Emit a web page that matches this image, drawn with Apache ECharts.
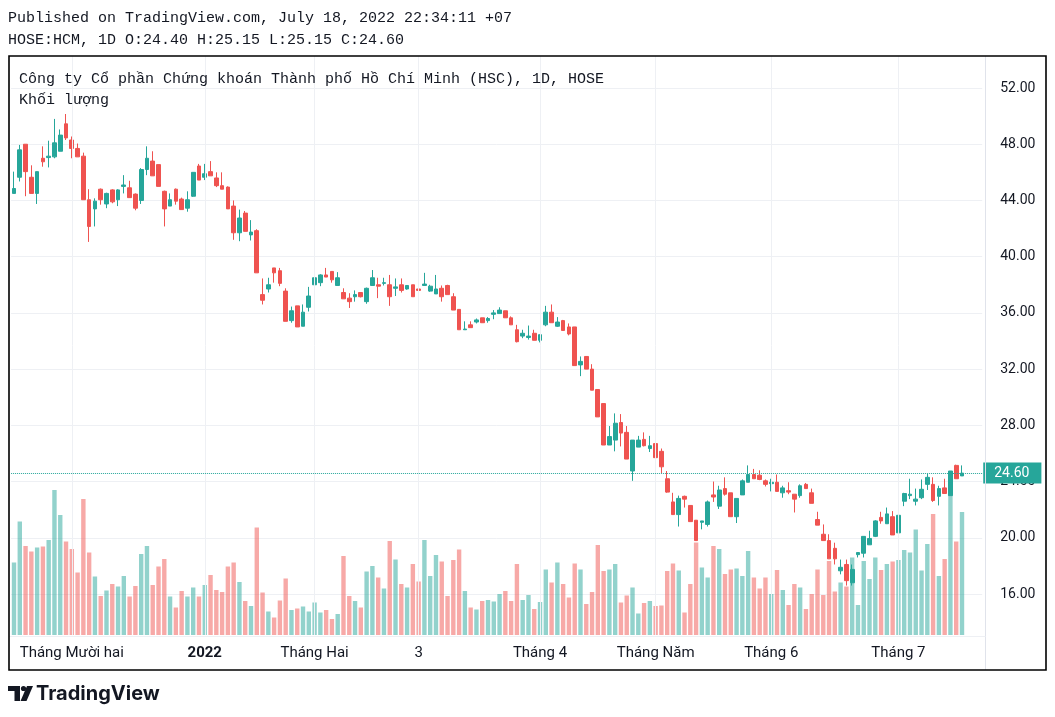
<!DOCTYPE html>
<html><head><meta charset="utf-8">
<script src="https://cdn.jsdelivr.net/npm/echarts@6/dist/echarts.min.js"></script>
<style>html,body{margin:0;padding:0;background:#fff}#c{width:1055px;height:717px}</style>
</head><body><div id="c"></div>
<script>
// ---- categories (trading days) ----
const dates = [
'2021-11-17','2021-11-18','2021-11-19','2021-11-22','2021-11-23','2021-11-24','2021-11-25','2021-11-26','2021-11-29','2021-11-30',
'2021-12-01','2021-12-02','2021-12-03','2021-12-06','2021-12-07','2021-12-08','2021-12-09','2021-12-10','2021-12-13','2021-12-14','2021-12-15','2021-12-16','2021-12-17','2021-12-20','2021-12-21','2021-12-22','2021-12-23','2021-12-24','2021-12-27','2021-12-28','2021-12-29','2021-12-30','2021-12-31',
'2022-01-04','2022-01-05','2022-01-06','2022-01-07','2022-01-10','2022-01-11','2022-01-12','2022-01-13','2022-01-14','2022-01-17','2022-01-18','2022-01-19','2022-01-20','2022-01-21','2022-01-24','2022-01-25','2022-01-26','2022-01-27','2022-01-28',
'2022-02-07','2022-02-08','2022-02-09','2022-02-10','2022-02-11','2022-02-14','2022-02-15','2022-02-16','2022-02-17','2022-02-18','2022-02-21','2022-02-22','2022-02-23','2022-02-24','2022-02-25','2022-02-28',
'2022-03-01','2022-03-02','2022-03-03','2022-03-04','2022-03-07','2022-03-08','2022-03-09','2022-03-10','2022-03-11','2022-03-14','2022-03-15','2022-03-16','2022-03-17','2022-03-18','2022-03-21','2022-03-22','2022-03-23','2022-03-24','2022-03-25','2022-03-28','2022-03-29','2022-03-30','2022-03-31',
'2022-04-01','2022-04-04','2022-04-05','2022-04-06','2022-04-07','2022-04-08','2022-04-12','2022-04-13','2022-04-14','2022-04-15','2022-04-18','2022-04-19','2022-04-20','2022-04-21','2022-04-22','2022-04-25','2022-04-26','2022-04-27','2022-04-28','2022-04-29',
'2022-05-04','2022-05-05','2022-05-06','2022-05-09','2022-05-10','2022-05-11','2022-05-12','2022-05-13','2022-05-16','2022-05-17','2022-05-18','2022-05-19','2022-05-20','2022-05-23','2022-05-24','2022-05-25','2022-05-26','2022-05-27','2022-05-30','2022-05-31',
'2022-06-01','2022-06-02','2022-06-03','2022-06-06','2022-06-07','2022-06-08','2022-06-09','2022-06-10','2022-06-13','2022-06-14','2022-06-15','2022-06-16','2022-06-17','2022-06-20','2022-06-21','2022-06-22','2022-06-23','2022-06-24','2022-06-27','2022-06-28','2022-06-29','2022-06-30',
'2022-07-01','2022-07-04','2022-07-05','2022-07-06','2022-07-07','2022-07-08','2022-07-11','2022-07-12','2022-07-13','2022-07-14','2022-07-15','2022-07-18'
];
const futureDates = ['2022-07-19','2022-07-20','2022-07-21'];

// ---- OHLC + volume (millions) ----
const open = [
44.5,45.65,48.0,45.65,44.5,47.0,47.05,47.1,47.5,49.45,
48.3,47.7,47.15,44.05,43.4,44.8,43.75,44.75,44.05,45.0,
44.9,44.45,44.0,46.2,46.8,46.55,44.65,43.6,44.8,44.1,
43.45,44.3,46.45,45.65,46.05,45.6,45.05,44.95,43.6,41.7,
43.1,41.55,41.85,37.3,37.7,39.2,39.0,37.55,35.45,36.5,
35.05,36.4,38.0,38.15,38.7,38.95,37.95,37.45,37.05,37.15,
37.45,36.8,37.95,38.0,38.1,38.0,37.75,38.0,37.7,38.0,
37.7,37.95,37.55,37.35,37.75,37.95,37.15,36.25,34.8,35.15,
35.35,35.65,35.45,35.9,35.95,36.15,35.65,34.8,34.35,34.25,
34.55,34.05,35.15,36.05,35.05,35.45,35.0,35.0,32.3,32.9,
32.0,30.55,29.55,26.6,26.95,28.2,27.5,24.75,26.45,27.0,
26.35,26.7,26.15,24.2,22.55,21.65,22.95,22.3,21.25,21.1,
20.95,23.05,22.25,23.5,23.2,21.5,23.05,23.95,24.5,24.45,
24.05,23.85,23.95,23.2,23.35,23.1,23.0,23.8,23.2,21.3,
20.25,19.8,19.25,17.65,18.1,16.8,18.8,18.9,19.5,20.1,
21.45,21.0,21.5,20.35,22.6,23.0,22.6,22.85,23.8,23.8,
22.95,23.55,23.0,25.15,24.4];
const high = [
46.05,47.95,48.0,46.5,46.05,47.85,48.25,49.8,49.05,50.15,
48.55,48.05,47.4,44.8,44.15,44.85,44.55,44.8,44.8,45.8,
45.4,44.5,46.3,47.85,47.5,46.55,44.7,44.5,44.85,44.2,
44.65,46.0,46.6,46.6,46.8,46.0,46.0,45.0,44.0,43.35,
43.25,42.6,41.95,38.45,38.5,39.2,39.2,37.75,36.45,36.5,
36.6,37.85,39.2,38.75,39.2,38.95,38.9,37.75,37.4,37.6,
37.45,37.8,39.05,38.5,38.5,38.7,38.45,38.45,37.95,38.0,
37.85,38.85,38.0,38.7,37.95,38.0,37.4,36.25,35.4,35.4,
35.6,35.65,35.7,36.2,36.4,36.15,35.75,35.15,34.8,35.1,
34.8,34.45,36.5,36.6,35.7,35.5,35.25,35.0,32.9,32.9,
32.35,30.55,29.55,27.95,28.85,28.8,27.95,26.95,27.25,27.5,
27.25,26.9,26.35,24.75,23.2,23.0,23.0,22.3,21.25,21.2,
22.65,24.0,23.7,24.3,23.2,22.8,24.15,25.15,24.9,24.8,
24.15,24.2,24.5,23.7,23.95,23.1,23.8,23.9,23.5,21.85,
20.95,20.25,19.65,18.45,18.45,18.1,18.95,20.1,20.5,21.25,
21.85,22.15,21.9,21.6,23.2,24.2,23.5,24.15,24.55,24.3,
23.7,24.2,24.75,25.2,25.15];
const low = [
44.5,45.35,44.3,44.5,43.75,46.4,46.35,47.0,47.5,48.3,
47.0,47.1,44.05,41.05,42.15,43.7,43.45,43.8,43.6,44.5,
44.2,43.3,43.75,45.8,45.75,45.0,42.15,43.6,43.7,43.35,
43.2,44.25,45.45,45.45,45.75,44.95,44.8,43.4,41.2,41.1,
41.8,41.15,38.85,36.6,37.45,38.15,37.9,35.4,35.3,35.0,
35.05,36.1,37.65,37.9,38.55,38.15,37.95,37.0,36.35,36.8,
37.1,36.65,37.95,37.05,37.95,36.5,37.2,37.45,37.65,37.15,
37.05,37.95,37.5,37.35,36.8,37.3,36.2,34.8,34.8,34.95,
35.25,35.3,35.3,35.55,35.95,35.65,35.15,33.9,34.2,34.1,
34.05,33.9,35.05,35.3,35.0,34.75,34.4,32.25,31.5,32.0,
30.5,28.6,26.6,26.6,26.15,26.5,25.6,24.05,26.45,26.5,
26.1,25.7,24.6,23.2,21.65,20.8,22.15,21.15,19.8,20.6,
20.8,22.55,22.05,23.0,21.5,21.05,23.05,23.95,24.2,24.1,
23.65,23.3,23.3,22.85,23.1,21.8,22.85,23.5,22.45,20.9,
19.8,18.5,18.1,17.4,16.6,16.6,18.6,18.6,19.5,20.05,
21.0,21.0,20.2,20.1,22.25,22.75,22.3,22.75,23.4,22.55,
22.3,23.15,23.0,24.2,24.4];
const close = [
44.85,47.6,46.05,44.5,46.05,46.75,47.15,48.1,48.65,48.45,
47.7,47.1,44.05,42.15,43.95,44.05,44.5,43.9,44.75,45.1,
44.2,43.45,46.2,47.0,45.75,45.0,43.4,44.05,43.95,43.35,
44.05,46.0,45.45,45.9,45.75,45.05,44.8,43.4,41.7,42.75,
41.8,41.75,38.85,36.9,38.0,38.85,38.1,35.4,36.15,35.0,
36.05,37.2,38.5,38.7,38.55,38.35,38.5,37.0,36.8,37.3,
37.15,37.75,38.5,37.9,38.15,37.15,37.85,37.6,37.95,37.15,
37.6,38.05,37.9,37.7,37.15,37.3,36.2,34.8,34.85,34.95,
35.5,35.3,35.6,36.0,36.2,35.65,35.15,33.95,34.55,34.35,
34.05,34.45,36.05,35.3,35.35,34.75,34.5,32.25,32.55,32.0,
30.5,28.6,26.6,27.2,28.15,27.45,25.6,26.95,26.95,26.55,
26.55,25.7,25.05,23.25,21.65,22.8,22.75,21.15,19.8,21.2,
22.55,22.9,23.4,23.1,21.5,22.8,24.05,24.5,24.2,24.15,
23.8,23.95,23.3,23.55,23.25,22.75,23.7,23.5,22.45,20.9,
19.8,18.5,18.5,17.9,16.95,17.75,18.95,20.1,19.95,21.2,
21.2,21.7,20.2,21.6,23.15,23.1,22.75,23.45,24.3,22.65,
23.5,23.15,24.75,24.2,24.6];
const volume = [
14.5,22.7,17.8,16.7,17.5,17.7,19.0,29.0,24.0,18.7,
17.2,12.5,27.2,16.5,11.7,7.8,8.9,10.2,9.7,11.8,
7.7,9.8,16.2,17.8,10.0,13.7,15.2,7.7,5.5,8.8,
7.7,9.5,7.7,10.0,12.0,9.0,8.6,13.7,14.5,10.6,
6.8,5.8,21.5,8.5,4.7,3.5,6.9,11.3,5.0,5.3,
5.7,4.7,6.5,4.5,5.0,3.2,4.2,15.8,7.8,6.8,
5.5,12.7,13.8,11.5,9.3,18.8,15.1,10.2,9.5,14.2,
10.7,19.0,11.8,16.0,14.7,7.8,15.0,17.1,8.8,5.5,
5.1,6.8,7.0,6.7,8.2,8.8,6.8,14.2,7.0,8.0,
5.2,6.6,13.1,10.5,14.5,10.2,7.5,14.3,13.1,6.2,
8.6,18.0,12.8,13.1,14.2,6.5,7.9,9.5,4.3,6.4,
6.8,5.8,5.9,12.8,14.3,12.9,4.5,10.2,18.5,13.5,
11.5,17.8,17.2,12.2,13.1,13.3,11.8,16.8,11.5,9.3,
11.5,8.2,13.0,9.0,6.0,10.2,9.5,5.2,8.2,13.1,
8.0,14.8,8.7,10.5,9.7,15.5,6.0,14.8,11.2,15.5,
13.0,14.2,14.7,15.0,17.0,16.5,21.1,12.9,18.2,24.2,
11.8,15.2,31.4,18.7,24.6];

// ---- ticks ----
const tickDates = ['2021-12-01','2022-01-04','2022-02-07','2022-03-03','2022-04-01','2022-05-04','2022-06-01','2022-07-01'];
const tickLabels = ['Tháng Mười hai','2022','Tháng Hai','3','Tháng 4','Tháng Năm','Tháng 6','Tháng 7'];
const priceTicks = [16,20,24,28,32,36,40,44,48,52];

// ---- build ----
const UP = '#26a69a', DOWN = '#ef5350';
const UPV = 'rgba(38,166,154,0.5)', DOWNV = 'rgba(239,83,80,0.5)';
const categories = dates.concat(futureDates);
const candleData = open.map((o, i) => [o, close[i], low[i], high[i]]);
const volData = volume.map((v, i) => ({ value: v, itemStyle: { color: close[i] >= open[i] ? UPV : DOWNV } }));
const lastClose = close[close.length - 1];
const GL = 11.11, BW = 5.7805;
const GR = 1055 - (GL + categories.length * BW);
const GRID = '#eef0f4';
const TXT = '#131722';
const MONO = '"Liberation Mono", "DejaVu Sans Mono", monospace';

const chart = echarts.init(document.getElementById('c'), null, { renderer: 'canvas', width: 1055, height: 717 });
chart.setOption({
  animation: false,
  backgroundColor: '#ffffff',
  grid: [
    { left: GL, right: GR, top: 88, bottom: 123, outerBoundsMode: 'none' },
    { left: GL, right: GR, top: 56, bottom: 82, outerBoundsMode: 'none' }
  ],
  xAxis: [
    { type: 'category', gridIndex: 0, data: categories, axisLine: { show: false }, axisTick: { show: false }, axisLabel: { show: false }, splitLine: { show: false } },
    { type: 'category', gridIndex: 1, data: categories, axisLine: { show: false }, axisTick: { show: false }, splitLine: { show: false },
      axisLabel: {
        show: true, margin: 11, color: TXT, fontSize: 15, fontFamily: 'Roboto',
        interval: (idx, val) => tickDates.indexOf(val) >= 0,
        formatter: (val) => { const k = tickDates.indexOf(val); if (k < 0) return ''; return tickLabels[k] === '2022' ? '{b|2022}' : tickLabels[k]; },
        rich: { b: { fontWeight: 'bold', fontSize: 15, fontFamily: 'Roboto', color: TXT } }
      } }
  ],
  yAxis: [
    { type: 'value', gridIndex: 0, position: 'right', min: priceTicks[0], max: priceTicks[priceTicks.length - 1], interval: 4,
      axisLine: { show: false }, axisTick: { show: false },
      axisLabel: { formatter: v => v.toFixed(2), margin: 18, color: TXT, fontSize: 14, fontFamily: 'Roboto' },
      splitLine: { show: true, lineStyle: { color: GRID, width: 1 } } },
    { type: 'value', gridIndex: 1, min: 0, max: 115.8, show: false, splitLine: { show: false } }
  ],
  series: [
    { type: 'line', xAxisIndex: 1, yAxisIndex: 1, data: [], z: 0, silent: true,
      markLine: { silent: true, symbol: ['none', 'none'], animation: false, label: { show: false },
        lineStyle: { color: GRID, width: 1, type: 'solid' },
        data: tickDates.map(d => ({ xAxis: d })) } },
    { type: 'bar', xAxisIndex: 1, yAxisIndex: 1, data: volData, barWidth: '76%', z: 1, silent: true },
    { type: 'candlestick', xAxisIndex: 0, yAxisIndex: 0, data: candleData, barWidth: '72%', z: 3, silent: true,
      itemStyle: { color: UP, color0: DOWN, borderColor: UP, borderColor0: DOWN, borderWidth: 1 },
      markLine: { silent: true, symbol: ['none', 'none'], animation: false,
        lineStyle: { color: UP, width: 1, type: 'dotted' },
        label: { show: true, position: 'end', distance: 1, formatter: lastClose.toFixed(2), color: '#fff',
          backgroundColor: UP, padding: [4, 12, 3, 11], fontSize: 14, fontFamily: 'Roboto' },
        data: [{ yAxis: lastClose }] } }
  ],
  graphic: [
    { type: 'text', x: 8, y: 18, style: { text: 'Published on TradingView.com, July 18, 2022 22:34:11 +07', font: '15px ' + MONO, fill: TXT, verticalAlign: 'middle' } },
    { type: 'text', x: 8, y: 40, style: { text: 'HOSE:HCM, 1D O:24.40 H:25.15 L:25.15 C:24.60', font: '15px ' + MONO, fill: TXT, verticalAlign: 'middle' } },
    { type: 'text', x: 19, y: 79, z: 50, style: { text: 'Công ty Cổ phần Chứng khoán Thành phố Hồ Chí Minh (HSC), 1D, HOSE', font: '15px ' + MONO, fill: TXT, verticalAlign: 'middle' } },
    { type: 'text', x: 19, y: 100, z: 50, style: { text: 'Khối lượng', font: '15px ' + MONO, fill: TXT, verticalAlign: 'middle' } },
    { type: 'line', shape: { x1: 985.5, y1: 56, x2: 985.5, y2: 670 }, style: { stroke: '#e0e3eb', lineWidth: 1 }, z: 40 },
    { type: 'line', shape: { x1: 9, y1: 636.5, x2: 985.5, y2: 636.5 }, style: { stroke: '#eef0f4', lineWidth: 1 }, z: 40 },
    { type: 'rect', shape: { x: 9, y: 56, width: 1037, height: 614 }, style: { fill: null, stroke: '#000', lineWidth: 1.6 }, z: 60 },
    // TradingView logo
    { type: 'polygon', shape: { points: [[8, 686], [20, 686], [20, 701], [14.5, 701], [14.5, 691], [8, 691]] }, style: { fill: TXT }, z: 60 },
    { type: 'circle', shape: { cx: 23.5, cy: 688.5, r: 2.6 }, style: { fill: TXT }, z: 60 },
    { type: 'polygon', shape: { points: [[27, 686], [33, 686], [26.5, 701], [20.5, 701]] }, style: { fill: TXT }, z: 60 },
    { type: 'text', x: 36, y: 694, z: 60, style: { text: 'TradingView', font: 'bold 20px Inter, "Liberation Sans", sans-serif', fill: TXT, verticalAlign: 'middle' } }
  ]
});
</script>
</body></html>
